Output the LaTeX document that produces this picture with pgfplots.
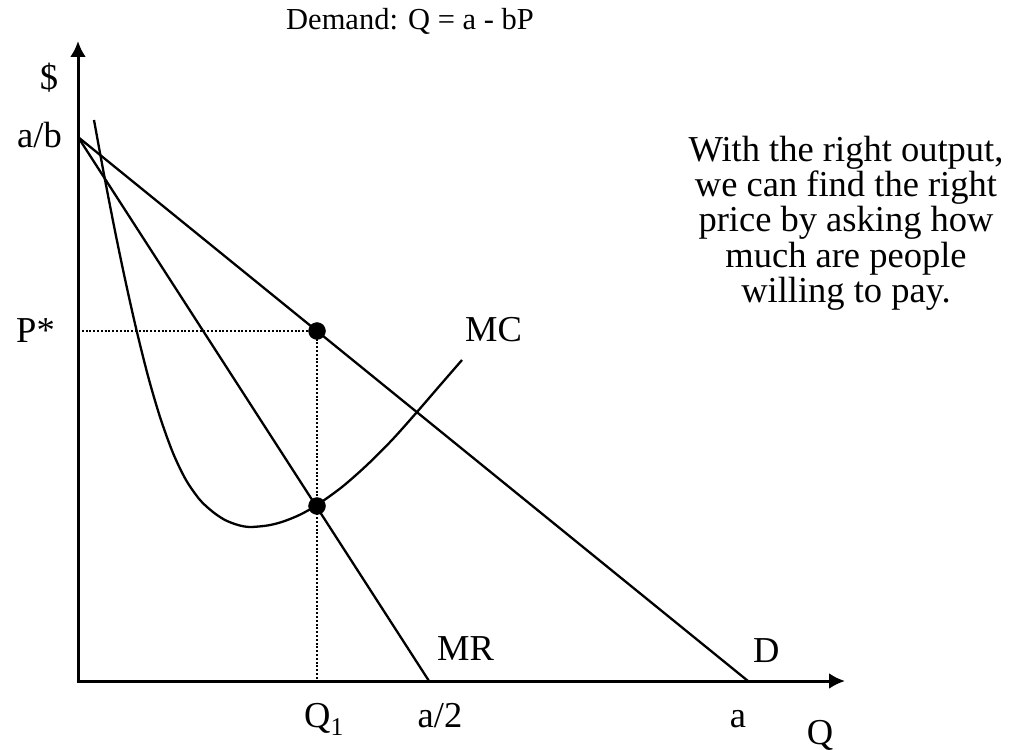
\documentclass[border=0pt]{standalone}
\usepackage{fontspec}
\setmainfont{Liberation Serif}
\usepackage{pgfplots}
\pgfplotsset{compat=1.18}
\usetikzlibrary{arrows.meta}

\tikzset{
  lbl/.style={font=\fontsize{36.5}{44}\selectfont, inner sep=0pt},
  ttl/.style={font=\fontsize{30.5}{36}\selectfont, inner sep=0pt},
}

\begin{document}
\begin{tikzpicture}
\begin{axis}[
  x=1pt, y=1pt,
  xmin=-78, xmax=933, ymin=-67, ymax=681,
  hide axis, clip=false,
  anchor=origin, at={(0,0)},
]
% canvas extent
\addplot[draw=none, forget plot] coordinates {(-78,-67) (933,681)};

% axes
\addplot[line width=3pt, -{Latex[length=16pt, width=16pt]}] coordinates {(0,-1.5) (0,640)};
\addplot[line width=3pt, -{Latex[length=16pt, width=16pt]}] coordinates {(-1.5,0) (767,0)};

% demand and marginal revenue
\addplot[line width=2.3pt] coordinates {(0,544) (670,0)};
\addplot[line width=2.3pt] coordinates {(0,544) (351,0)};

% marginal cost
\addplot[line width=2.3pt, smooth] coordinates {
  (16,561) (26,506.5) (37,450) (47,402) (58,353) (70,305) (82,264)
  (95,228) (108,201) (122,181) (135,169) (147,161) (160,156) (172,154)
  (190,155.6) (205,159.4) (222,166.3) (239,176) (264,194) (289,216)
  (314,241) (339,269) (361,294.5) (384,321)};

% guides to P* and Q1
\addplot[line width=2pt, dash pattern=on 2pt off 1.8pt] coordinates {(0,350) (239,350)};
\addplot[line width=2pt, dash pattern=on 2pt off 1.8pt] coordinates {(239,350) (239,0)};

% optimum points
\addplot[only marks, mark=*, mark size=8.5pt, mark options={fill=black}] coordinates {(239,350) (239,175)};

% labels
\node[ttl, anchor=base] at (axis cs:332,651) {Demand: Q = a - bP};
\node[lbl, anchor=base] at (axis cs:-29,591) {\$};
\node[lbl, anchor=base east] at (axis cs:-16,533) {a/b};
\node[lbl, anchor=base east] at (axis cs:-23,339) {P*};
\node[lbl, anchor=base west] at (axis cs:387,340) {MC};
\node[lbl, anchor=base west] at (axis cs:359,21) {MR};
\node[lbl, anchor=base west] at (axis cs:675,19) {D};
\node[lbl, anchor=base west] at (axis cs:226,-46) {Q\textsubscript{1}};
\node[lbl, anchor=base] at (axis cs:362,-46) {a/2};
\node[lbl, anchor=base] at (axis cs:660,-46) {a};
\node[lbl, anchor=base] at (axis cs:742,-63) {Q};

\node[lbl, anchor=base] at (axis cs:768,519) {With the right output,};
\node[lbl, anchor=base] at (axis cs:768,484) {we can find the right};
\node[lbl, anchor=base] at (axis cs:768,449) {price by asking how};
\node[lbl, anchor=base] at (axis cs:768,414) {much are people};
\node[lbl, anchor=base] at (axis cs:768,379) {willing to pay.};
\end{axis}
\end{tikzpicture}
\end{document}
